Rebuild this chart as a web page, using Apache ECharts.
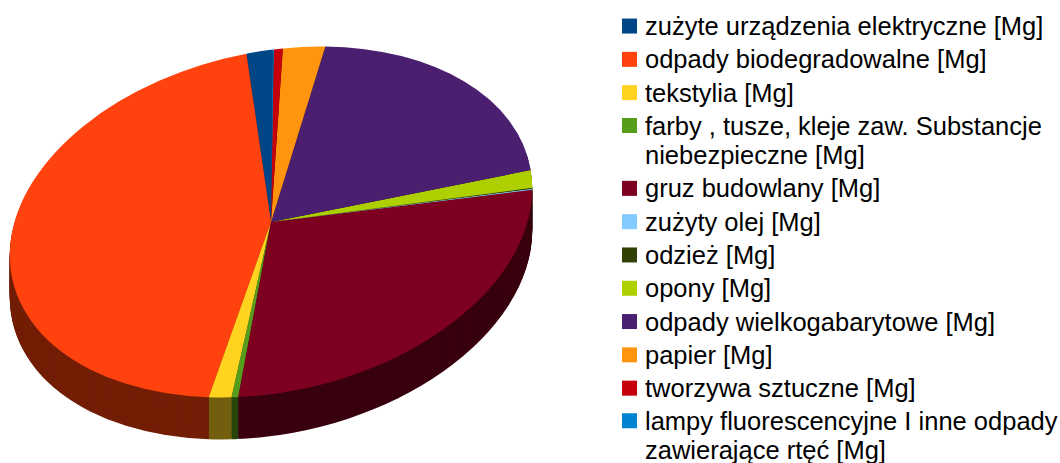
<!DOCTYPE html>
<html>
<head>
<meta charset="utf-8">
<title>Odpady</title>
<script src="https://cdn.jsdelivr.net/npm/echarts@6/dist/echarts.min.js"></script>
<style>
  body { margin:0; width:1060px; height:463px; overflow:hidden; background:#fff; position:relative; }
  /* pie is drawn round, then squashed/tilted into the 3D ellipse */
  #pie { position:absolute; left:21px; top:-28px; width:500px; height:500px;
         transform-origin:250px 250px; transform:matrix(1.375,-0.1758,0,0.9063,0,0); }
  #legend { position:absolute; left:0; top:0; width:1060px; height:463px; }
</style>
</head>
<body>
<div id="pie"></div>
<div id="legend"></div>
<script>
var names = [
  'zużyte urządzenia elektryczne [Mg]',
  'odpady biodegradowalne [Mg]',
  'tekstylia [Mg]',
  'farby , tusze, kleje zaw. Substancje niebezpieczne [Mg]',
  'gruz budowlany [Mg]',
  'zużyty olej [Mg]',
  'odzież [Mg]',
  'opony [Mg]',
  'odpady wielkogabarytowe [Mg]',
  'papier [Mg]',
  'tworzywa sztuczne [Mg]',
  'lampy fluorescencyjne I inne odpady zawierające rtęć [Mg]'
];
var values = [5.8, 160.9, 5.1, 1.5, 96.9, 0.3, 0.3, 6.0, 71.8, 9.4, 2.0, 0.2];
var colors = ['#004586','#ff420e','#ffd320','#579d1c','#7e0021','#83caff',
              '#314004','#aecf00','#4b1f6f','#ff950e','#c5000b','#0084d1'];

function shade(hex, f) {
  var n = parseInt(hex.slice(1), 16);
  var r = Math.round(((n >> 16) & 255) * f);
  var g = Math.round(((n >> 8) & 255) * f);
  var b = Math.round((n & 255) * f);
  return 'rgb(' + r + ',' + g + ',' + b + ')';
}

function makeData(f) {
  return names.map(function (n, i) {
    return { name: n, value: values[i], itemStyle: { color: f === 1 ? colors[i] : shade(colors[i], f) } };
  });
}

var depth = 42;      // side height in screen px
var yScale = 0.9063; // same as matrix d
var series = [];
for (var k = depth; k >= 0; k--) {
  series.push({
    type: 'pie',
    center: [250, 250 + k / yScale],
    radius: 190,
    startAngle: 89.6,
    clockwise: false,
    silent: true,
    animation: false,
    label: { show: false },
    labelLine: { show: false },
    itemStyle: { borderWidth: 0 },
    data: makeData(k === 0 ? 1 : 0.45)
  });
}

var pie = echarts.init(document.getElementById('pie'), null, { renderer: 'svg' });
pie.setOption({ animation: false, series: series });

// legend in its own flat instance
var lineH = 29.3;
function wrap(n) {
  return n.replace(' niebezpieczne', '\nniebezpieczne').replace(' zawierające', '\nzawierające');
}
function leg(list, top, twoLines) {
  var h = twoLines ? 15 + lineH : 15;
  return {
    orient: 'vertical', left: 622, top: top, padding: 0, itemGap: 4,
    itemWidth: 15, itemHeight: h,
    // square at the top, zero-size tail below so the first text line sits by the square
    icon: twoLines ? 'path://M0,0H15V15H0Z M0,' + h + 'L0.01,' + h : 'rect',
    itemStyle: { borderWidth: 0 },
    formatter: wrap,
    textStyle: { fontFamily: 'Liberation Sans', fontSize: 25.5, color: '#000',
                 lineHeight: lineH, padding: [0, 0, 0, 3] },
    data: list
  };
}

var legendChart = echarts.init(document.getElementById('legend'), null, { renderer: 'svg' });
legendChart.setOption({
  animation: false,
  legend: [
    leg(names.slice(0, 3), 11.4, false),
    leg(names.slice(3, 4), 110.9, true),
    leg(names.slice(4, 11), 173.7, false),
    leg(names.slice(11), 406, true)
  ],
  series: [{
    type: 'pie', radius: 0, center: [-50, -50], silent: true,
    label: { show: false }, labelLine: { show: false },
    data: makeData(1)
  }]
});
</script>
</body>
</html>
